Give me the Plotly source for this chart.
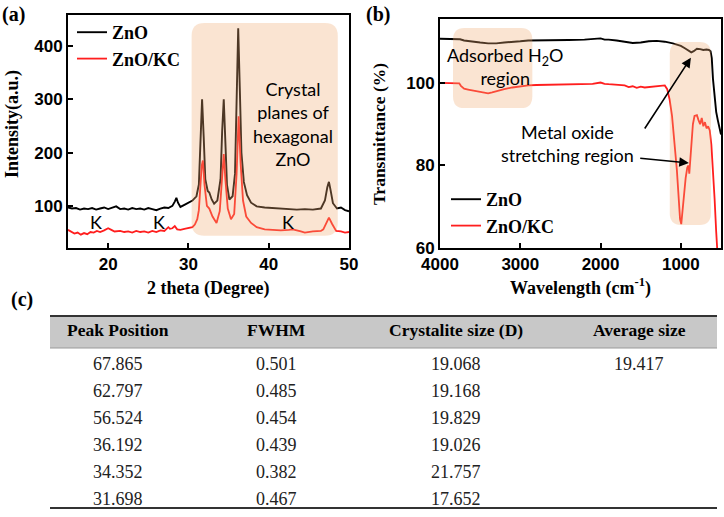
import plotly.graph_objects as go

W, H = 724, 517

# ---- (a) XRD data ----
theta_zno = [15, 15.5, 16, 16.5, 17, 17.5, 18, 18.5, 19, 19.5, 20, 20.5, 21, 21.5, 22, 22.5,
             23, 23.5, 24, 24.5, 25, 25.5, 26, 26.5, 27, 27.5, 28, 28.3, 28.5, 28.7, 29, 29.5,
             30, 30.5, 31, 31.3, 31.5, 31.7, 31.9, 32.1, 32.4, 32.6, 32.9, 33.2, 33.6, 34.0,
             34.2, 34.4, 34.6, 34.8, 35.1, 35.5, 35.8, 36.0, 36.2, 36.4, 36.6, 36.9, 37.3,
             37.8, 38.5, 39.5, 40.5, 41.5, 42.5, 43.5, 44.5, 45.5, 46.5, 47.0, 47.3, 47.5,
             47.7, 48.0, 48.5, 49.0, 49.5, 50]
int_zno = [97, 95, 96, 93, 95, 94, 96, 93, 95, 97, 94, 96, 99, 94, 95, 93,
           96, 94, 95, 93, 96, 94, 92, 95, 97, 96, 100, 108, 115, 106, 98, 102,
           106, 110, 118, 140, 220, 300, 230, 150, 128, 125, 112, 104, 110, 150,
           240, 300, 220, 140, 112, 118, 160, 290, 433, 320, 200, 145, 120,
           106, 99, 97, 96, 95, 94, 93, 94, 93, 95, 110, 135, 145,
           130, 105, 95, 97, 92, 90]

theta_kc = [15, 15.4, 15.8, 16.2, 16.6, 17, 17.4, 17.8, 18.2, 18.6, 19, 19.5, 20, 20.4, 20.8,
            21.5, 22, 22.5, 23, 23.5, 24, 24.5, 25, 25.5, 26, 26.5, 27, 27.5, 27.7, 28, 28.3,
            28.6, 29, 29.5, 30, 30.5, 30.8, 31.1, 31.3, 31.5, 31.65, 31.8, 32.0, 32.3, 32.6,
            33.0, 33.5, 33.9, 34.1, 34.25, 34.4, 34.6, 34.9, 35.3, 35.7, 36.0, 36.1, 36.25,
            36.5, 36.8, 37.2, 37.8, 38.5, 39.5, 40.5, 41.5, 42.5, 43, 44, 44.5, 45.5, 46.5,
            46.8, 47.1, 47.5, 47.9, 48.4, 49, 49.5, 50]
int_kc = [55, 52, 48, 50, 46, 49, 47, 51, 50, 53, 51, 54, 58, 55, 52,
          53, 51, 52, 50, 53, 51, 52, 50, 53, 51, 54, 53, 60, 57, 58, 62,
          56, 55, 57, 58, 60, 65, 75, 92, 150, 175, 185, 140, 100, 95,
          80, 68, 90, 140, 180, 197, 150, 95, 75, 85, 160, 220, 268,
          180, 110, 80, 68, 60, 56, 55, 54, 55, 56, 52, 50, 52, 53,
          56, 65, 78, 66, 53, 52, 50, 51]

# ---- (b) FTIR data ----
wn_zno = [4000, 3900, 3800, 3750, 3700, 3600, 3500, 3400, 3300, 3200, 3100, 3000, 2900, 2800,
          2600, 2400, 2200, 2100, 2000, 1950, 1900, 1800, 1700, 1600, 1500, 1400, 1300, 1200,
          1100, 1000, 950, 900, 870, 840, 800, 760, 720, 680, 650, 630, 615, 600, 580, 560,
          540, 520, 500]
tr_zno = [110.7, 110.7, 110.7, 110.6, 110.3, 110.0, 109.8, 109.6, 109.6, 109.8, 109.9, 110.1,
          110.3, 110.3, 110.4, 110.4, 110.5, 110.6, 110.8, 110.5, 110.5, 110.3, 110.0, 109.7,
          109.8, 110.1, 110.2, 110.0, 109.6, 109.0, 108.4, 107.8, 107.4, 107.7, 108.3, 108.2,
          108.0, 108.1, 108.0, 107.7, 106.0, 101.0, 96.0, 93.0, 91.0, 89.0, 87.5]

wn_kc = [4000, 3900, 3800, 3760, 3740, 3700, 3650, 3600, 3550, 3500, 3450, 3400, 3350, 3300,
         3200, 3100, 3000, 2900, 2800, 2600, 2400, 2200, 2100, 2000, 1950, 1900, 1800, 1700,
         1650, 1600, 1550, 1500, 1450, 1400, 1300, 1250, 1200, 1170, 1140, 1110, 1080, 1050,
         1030, 1010, 995, 980, 960, 940, 920, 905, 895, 885, 870, 850, 830, 800, 780, 760,
         740, 720, 700, 680, 660, 640, 620, 600, 580, 560, 545]
tr_kc = [100, 100, 100, 99.9, 99.3, 98.6, 98.4, 98.2, 98.0, 97.9, 97.6, 97.5, 97.7, 98.0,
         98.5, 98.9, 99.2, 99.4, 99.5, 99.6, 99.6, 99.7, 99.8, 100.1, 99.8, 99.7, 99.6, 99.4,
         99.0, 99.2, 98.8, 99.1, 98.9, 99.0, 99.1, 99.3, 99.4, 98.5, 96, 92, 86, 79,
         73, 67, 65.8, 69, 74, 77, 79.5, 80, 78, 81, 86, 90, 92, 92.2, 91, 90,
         91.5, 89.5, 90.5, 89, 89.5, 88.5, 85, 79, 72, 64, 59]

# ---- (c) table ----
table_headers = ["Peak Position", "FWHM", "Crystalite size (D)", "Average size"]
peak_pos = ["67.865", "62.797", "56.524", "36.192", "34.352", "31.698"]
fwhm = ["0.501", "0.485", "0.454", "0.439", "0.382", "0.467"]
cryst_size = ["19.068", "19.168", "19.829", "19.026", "21.757", "17.652"]
avg_size = ["19.417", "", "", "", "", ""]

RED = "#ff1e1e"
SERIF = "Liberation Serif"
SANS = "Liberation Sans"
NOTE = "Lato"
SHADE = "rgba(240,170,115,0.32)"


def px_x(px):
    return px / W


def px_y(py):
    return 1 - py / H


def rounded_rect(x0, x1, y0, y1, rx, ry):
    return (f"M {x0 + rx},{y0} L {x1 - rx},{y0} Q {x1},{y0} {x1},{y0 + ry} "
            f"L {x1},{y1 - ry} Q {x1},{y1} {x1 - rx},{y1} L {x0 + rx},{y1} "
            f"Q {x0},{y1} {x0},{y1 - ry} L {x0},{y0 + ry} Q {x0},{y0} {x0 + rx},{y0} Z")


fig = go.Figure()

fig.add_trace(go.Scatter(x=theta_zno, y=int_zno, mode="lines", name="ZnO",
                         line=dict(color="black", width=1.9), legend="legend"))
fig.add_trace(go.Scatter(x=theta_kc, y=int_kc, mode="lines", name="ZnO/KC",
                         line=dict(color=RED, width=1.8), legend="legend"))
fig.add_trace(go.Scatter(x=wn_zno, y=tr_zno, mode="lines", name="ZnO",
                         line=dict(color="black", width=1.9), xaxis="x2", yaxis="y2",
                         legend="legend2"))
fig.add_trace(go.Scatter(x=wn_kc, y=tr_kc, mode="lines", name="ZnO/KC",
                         line=dict(color=RED, width=1.8), xaxis="x2", yaxis="y2",
                         legend="legend2"))

axis_style = dict(showline=True, mirror=True, linecolor="black", linewidth=2,
                  ticks="inside", ticklen=5, tickwidth=2, tickcolor="black",
                  showgrid=False, zeroline=False, automargin=False,
                  tickfont=dict(family=SANS, size=17, color="black", weight="bold"))

fig.update_layout(
    width=W, height=H,
    margin=dict(l=0, r=0, t=0, b=0, autoexpand=False),
    paper_bgcolor="white", plot_bgcolor="white",
    xaxis=dict(domain=[px_x(68), px_x(349)], range=[15, 50], dtick=10, tick0=0,
               anchor="y", **axis_style),
    yaxis=dict(domain=[px_y(248), px_y(15)], range=[21, 458], dtick=100, tick0=0,
               anchor="x", **axis_style),
    xaxis2=dict(domain=[px_x(440), px_x(721)], range=[4000, 500], dtick=1000, tick0=0,
                anchor="y2", **axis_style),
    yaxis2=dict(domain=[px_y(248), px_y(19)], range=[60, 115.5], dtick=20, tick0=0,
                anchor="x2", **axis_style),
    legend=dict(x=px_x(72), y=px_y(14), xanchor="left", yanchor="top",
                bgcolor="rgba(0,0,0,0)", tracegroupgap=0,
                font=dict(family=SERIF, size=18, color="black", weight="bold")),
    legend2=dict(x=px_x(446), y=px_y(181), xanchor="left", yanchor="top",
                 bgcolor="rgba(0,0,0,0)", tracegroupgap=0,
                 font=dict(family=SERIF, size=18, color="black", weight="bold")),
)

shapes = [
    dict(type="path", xref="x", yref="y", layer="above", line=dict(width=0),
         fillcolor=SHADE, path=rounded_rect(30.4, 48.6, 44, 443, 1.6, 24)),
    dict(type="path", xref="x2", yref="y2", layer="above", line=dict(width=0),
         fillcolor=SHADE, path=rounded_rect(2850, 3838, 93.9, 113.3, 140, 2.9)),
    dict(type="path", xref="x2", yref="y2", layer="above", line=dict(width=0),
         fillcolor=SHADE, path=rounded_rect(625, 1138, 65.6, 109.9, 140, 2.9)),
    # table
    dict(type="rect", xref="paper", yref="paper", x0=px_x(50), x1=px_x(717),
         y0=px_y(348), y1=px_y(316), fillcolor="#c8c8c8", line=dict(width=0), layer="below"),
    dict(type="line", xref="paper", yref="paper", x0=px_x(50), x1=px_x(717),
         y0=px_y(316), y1=px_y(316), line=dict(color="#333333", width=2)),
    dict(type="line", xref="paper", yref="paper", x0=px_x(50), x1=px_x(717),
         y0=px_y(348), y1=px_y(348), line=dict(color="#9a9a9a", width=1)),
    dict(type="line", xref="paper", yref="paper", x0=px_x(50), x1=px_x(717),
         y0=px_y(508), y1=px_y(508), line=dict(color="#333333", width=2)),
]

ann = []
title_font = dict(family=SERIF, size=18, color="black", weight="bold")
note_font = dict(family=NOTE, size=18, color="black")
center = dict(xanchor="center", yanchor="middle", showarrow=False)

# panel labels
for txt, x, y in [("(a)", 13, 15), ("(b)", 378, 15), ("(c)", 22, 299)]:
    ann.append(dict(text=txt, xref="paper", yref="paper", x=px_x(x), y=px_y(y),
                    font=dict(family=SERIF, size=20, color="black", weight="bold"), **center))

# axis titles
ann += [
    dict(text="2 theta (Degree)", xref="paper", yref="paper", x=px_x(208), y=px_y(288),
         font=title_font, **center),
    dict(text="Wavelength (cm<sup>-1</sup>)", xref="paper", yref="paper", x=px_x(580),
         y=px_y(287), font=title_font, **center),
    dict(text="Intensity(a.u.)", xref="paper", yref="paper", x=px_x(12), y=px_y(124),
         textangle=-90, font=title_font, **center),
    dict(text="Transmittance (%)", xref="paper", yref="paper", x=px_x(379), y=px_y(134),
         textangle=-90, font=dict(title_font, size=17.5), **center),
]

# panel (a) notes
ann.append(dict(text="Crystal<br>planes of<br>hexagonal<br>ZnO", xref="x", yref="y",
                x=43.0, y=254, font=note_font, **center))
for kx in [18.5, 26.3, 42.4]:
    ann.append(dict(text="K", xref="x", yref="y", x=kx, y=70, font=note_font, **center))

# panel (b) notes
ann.append(dict(text="Adsorbed H<sub>2</sub>O<br>region", xref="x2", yref="y2",
                x=3188, y=103.9, font=note_font, **center))
ann.append(dict(text="Metal oxide<br>stretching region", xref="x2", yref="y2",
                x=2412, y=85.3, font=note_font, **center))
for tx, ty, hx, hy in [(1462, 88.6, 875, 106.1), (1525, 81.8, 900, 80.6)]:
    ann.append(dict(text="", xref="x2", yref="y2", axref="x2", ayref="y2",
                    x=hx, y=hy, ax=tx, ay=ty, showarrow=True, arrowhead=2,
                    arrowsize=1.2, arrowwidth=1.6, arrowcolor="black"))

# table text
col_x = [118, 276, 456, 639]
for cx, head in zip(col_x, table_headers):
    ann.append(dict(text=head, xref="paper", yref="paper", x=px_x(cx), y=px_y(330),
                    font=dict(family=SERIF, size=17.5, color="black", weight="bold"),
                    **center))
row_y = [364, 391, 418, 445, 472, 499]
for col, cx in zip([peak_pos, fwhm, cryst_size, avg_size], col_x):
    for val, ry in zip(col, row_y):
        if val:
            ann.append(dict(text=val, xref="paper", yref="paper", x=px_x(cx), y=px_y(ry),
                            font=dict(family=SERIF, size=18, color="#222222"), **center))

fig.update_layout(shapes=shapes, annotations=ann)

fig.write_html("out.html", config={"displayModeBar": False},
               post_script="document.body.style.margin = '0';")
